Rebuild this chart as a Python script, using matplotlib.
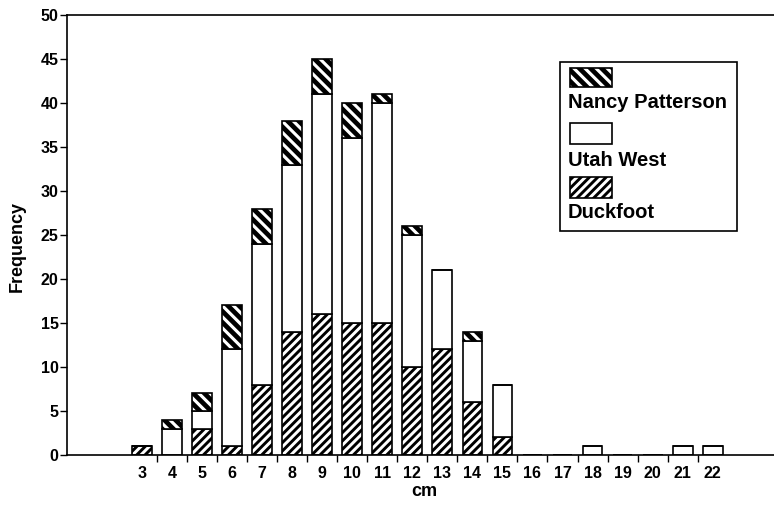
import numpy as np
import matplotlib
matplotlib.use("Agg")
import matplotlib.pyplot as plt
from matplotlib.patches import Rectangle

plt.rcParams["font.family"] = ["Liberation Sans", "DejaVu Sans"]
plt.rcParams["font.weight"] = "bold"

# size classes (cm)
sizes = [3, 4, 5, 6, 7, 8, 9, 10, 11, 12, 13, 14, 15, 16, 17, 18, 19, 20, 21, 22]
duckfoot = [1, 0, 3, 1, 8, 14, 16, 15, 15, 10, 12, 6, 2, 0, 0, 0, 0, 0, 0, 0]
utah_west = [0, 3, 2, 11, 16, 19, 25, 21, 25, 15, 9, 7, 6, 0, 0, 1, 0, 0, 1, 1]
nancy_patterson = [0, 1, 2, 5, 4, 5, 4, 4, 1, 1, 0, 1, 0, 0, 0, 0, 0, 0, 0, 0]

x = np.array(sizes)
d = np.array(duckfoot)
u = np.array(utah_west)
n = np.array(nancy_patterson)

fig = plt.figure(figsize=(7.74, 5.05), dpi=100)
ax = fig.add_axes([67 / 774, 50 / 505, 1 - 67 / 774 + 0.01, 440 / 505])

w = 0.66
DUCK_HATCH, NANCY_HATCH = "////", "\\\\\\"
DUCK_LW, NANCY_LW = 2.1, 3.4

plt.rcParams["hatch.linewidth"] = DUCK_LW
ax.bar(x, d, w, color="white", edgecolor="black", hatch=DUCK_HATCH, linewidth=1.2)
ax.bar(x, u, w, bottom=d, color="white", edgecolor="black", linewidth=1.2)
plt.rcParams["hatch.linewidth"] = NANCY_LW
ax.bar(x, n, w, bottom=d + u, color="white", edgecolor="black", hatch=NANCY_HATCH, linewidth=1.2)

ax.set_xlim(0.5, 24.3)
ax.set_ylim(0, 50)
ax.set_yticks(range(0, 51, 5))
ax.set_xticks(x)
ax.set_xticklabels([str(s) for s in sizes])
ax.set_xticks(np.arange(3.5, 22, 1), minor=True)
ax.tick_params(axis="x", which="major", length=0, pad=8, labelsize=11.5)
ax.tick_params(axis="x", which="minor", length=5, width=1, direction="out")
ax.tick_params(axis="y", length=5, width=1, labelsize=11.5, pad=1)
ax.spines["right"].set_visible(False)
for s in ["top", "left", "bottom"]:
    ax.spines[s].set_linewidth(1.2)

ax.set_xlabel("cm", fontsize=13, fontweight="bold", labelpad=1)
ax.set_ylabel("Frequency", fontsize=13, fontweight="bold")
ax.yaxis.set_label_coords(-0.058, 0.475)

# legend box with swatches above labels
tf = fig.transFigure
H = 505


def fy(py):
    return 1 - py / H


fig.patches.append(Rectangle((560 / 774, fy(231)), 177 / 774, (231 - 62) / H,
                             transform=tf, fill=False, edgecolor="black", linewidth=1.2))
entries = [("Nancy Patterson", NANCY_HATCH, 68, 87, 103, NANCY_LW),
           ("Utah West", "", 123, 144, 160, DUCK_LW),
           ("Duckfoot", DUCK_HATCH, 177, 198, 213, DUCK_LW)]
for label, hatch, y0, y1, ty, lw in entries:
    plt.rcParams["hatch.linewidth"] = lw
    fig.patches.append(Rectangle((570 / 774, fy(y1)), 42 / 774, (y1 - y0) / H,
                                 transform=tf, facecolor="white", edgecolor="black",
                                 hatch=hatch, linewidth=1.2))
    fig.text(568 / 774, fy(ty), label, fontsize=14.5, fontweight="bold", va="center", ha="left")

fig.savefig("out.png", dpi=100)
